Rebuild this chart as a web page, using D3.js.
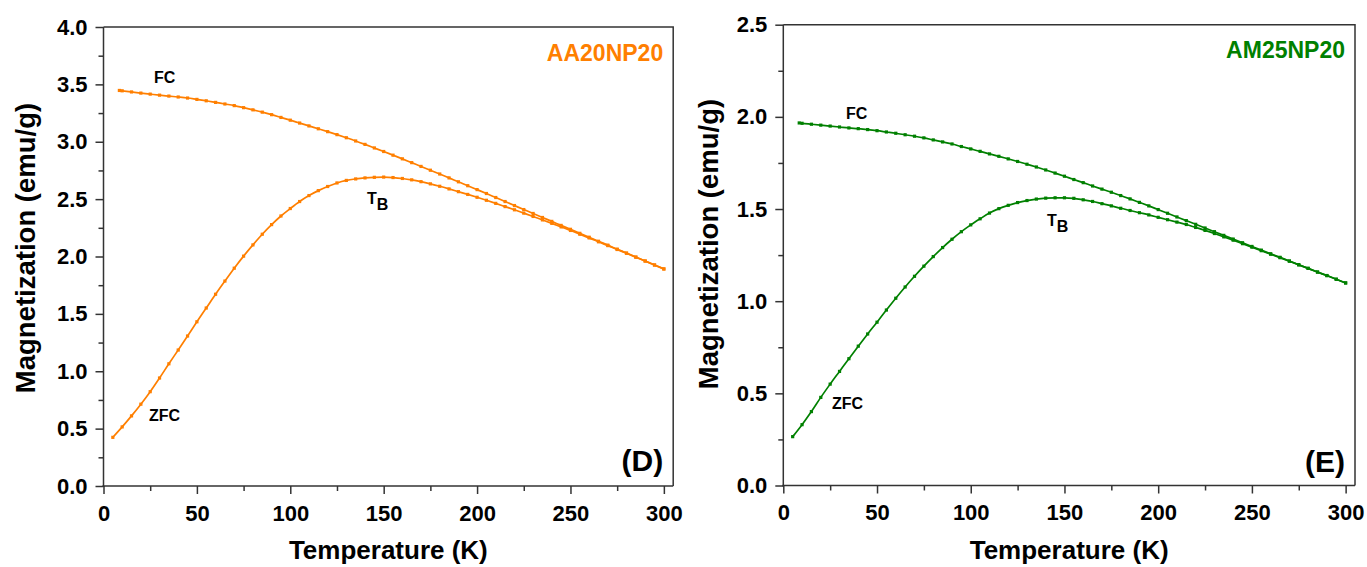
<!DOCTYPE html>
<html><head><meta charset="utf-8">
<script src="https://cdn.jsdelivr.net/npm/d3@7"></script>
<style>
html,body{margin:0;padding:0;background:#fff;}
svg text{font-family:"Liberation Sans",Arial,sans-serif;font-weight:bold;}
</style></head>
<body><svg id="c" width="1367" height="567"></svg>
<script>
// ---------- data ----------
const temps = [5,10,15,20,25,30,35,40,45,50,55,60,65,70,75,80,85,90,95,100,
  105,110,115,120,125,130,135,140,145,150,155,160,165,170,175,180,185,190,195,200,
  205,210,215,220,225,230,235,240,245,250,255,260,265,270,275,280,285,290,295,300];
const fcTemps = [8.5,10,15,20,25,30,35,40,45,50,55,60,65,70,75,80,85,90,95,100,
  105,110,115,120,125,130,135,140,145,150,155,160,165,170,175,180,185,190,195,200,
  205,210,215,220,225,230,235,240,245,250,255,260,265,270,275,280,285,290,295,300];

const zfcD = [0.424,0.515,0.611,0.713,0.822,0.941,1.065,1.185,1.307,1.431,
  1.551,1.671,1.786,1.898,2.003,2.101,2.194,2.278,2.353,2.418,
  2.479,2.531,2.574,2.610,2.641,2.663,2.676,2.685,2.690,2.692,
  2.688,2.680,2.668,2.652,2.633,2.612,2.589,2.565,2.541,2.516,
  2.490,2.463,2.435,2.407,2.378,2.349,2.319,2.289,2.258,2.227,
  2.194,2.162,2.128,2.095,2.061,2.028,1.994,1.960,1.926,1.891];
const fcD = [3.447,3.444,3.434,3.424,3.415,3.406,3.398,3.390,3.381,3.369,
  3.357,3.343,3.329,3.315,3.297,3.278,3.258,3.236,3.212,3.188,
  3.163,3.138,3.113,3.088,3.062,3.035,3.007,2.977,2.946,2.915,
  2.883,2.851,2.818,2.785,2.752,2.719,2.685,2.651,2.617,2.583,
  2.549,2.514,2.479,2.444,2.409,2.375,2.340,2.306,2.271,2.237,
  2.202,2.168,2.133,2.099,2.064,2.030,1.995,1.961,1.926,1.892];
const zfcE = [0.265,0.330,0.401,0.478,0.550,0.619,0.688,0.756,0.822,0.886,
  0.952,1.016,1.077,1.135,1.190,1.242,1.291,1.336,1.377,1.414,
  1.447,1.478,1.502,1.520,1.535,1.546,1.554,1.559,1.561,1.561,
  1.558,1.550,1.541,1.529,1.517,1.504,1.492,1.480,1.468,1.455,
  1.442,1.429,1.416,1.400,1.384,1.367,1.349,1.331,1.312,1.293,
  1.274,1.255,1.236,1.217,1.197,1.178,1.158,1.139,1.119,1.099];
const fcE = [1.967,1.965,1.960,1.955,1.950,1.945,1.940,1.936,1.931,1.925,
  1.918,1.911,1.903,1.895,1.886,1.875,1.864,1.853,1.839,1.826,
  1.813,1.799,1.786,1.772,1.758,1.743,1.728,1.712,1.695,1.678,
  1.660,1.643,1.625,1.608,1.591,1.573,1.555,1.536,1.517,1.497,
  1.477,1.457,1.437,1.417,1.397,1.377,1.357,1.337,1.317,1.297,
  1.277,1.257,1.238,1.218,1.198,1.178,1.158,1.139,1.119,1.099];

const xTicks = [0,50,100,150,200,250,300];
const xMinor = [25,75,125,175,225,275];
const yTicksD = [0,0.5,1.0,1.5,2.0,2.5,3.0,3.5,4.0];
const yMinorD = [0.25,0.75,1.25,1.75,2.25,2.75,3.25,3.75];
const yTicksE = [0,0.5,1.0,1.5,2.0,2.5];
const yMinorE = [0.25,0.75,1.25,1.75,2.25];
const xTitle = "Temperature (K)";
const yTitle = "Magnetization (emu/g)";

const panels = [
  {x0:103.5, x1:673.2, y0:486, y1:27, ymax:4.0, yTicks:yTicksD, yMinor:yMinorD,
   color:"#ff7f00", zfc:zfcD, fc:fcD, name:"AA20NP20", nameY:61, tag:"(D)", tagY:471,
   fcLab:[154,83], zfcLab:[149,421], tbLab:[367,204], yTitleX:35, yTitleY:248},
  {x0:783.3, x1:1355, y0:485.5, y1:24.7, ymax:2.5, yTicks:yTicksE, yMinor:yMinorE,
   color:"#008000", zfc:zfcE, fc:fcE, name:"AM25NP20", nameY:58, tag:"(E)", tagY:472,
   fcLab:[846,119], zfcLab:[832,409], tbLab:[1047,226], yTitleX:718, yTitleY:244}
];

const svg = d3.select("#c");
const axisColor = "#333";

panels.forEach(p => {
  const x = d3.scaleLinear().domain([0,305]).range([p.x0,p.x1]);
  const y = d3.scaleLinear().domain([0,p.ymax]).range([p.y0,p.y1]);
  const g = svg.append("g");

  // frame (top & right)
  g.append("path").attr("d",`M${p.x0},${p.y1}H${p.x1}V${p.y0}`)
    .attr("fill","none").attr("stroke",axisColor).attr("stroke-width",1.5);

  // minor ticks
  const xm = g.append("g").attr("transform",`translate(0,${p.y0})`)
    .call(d3.axisBottom(x).tickValues(xMinor).tickSize(5).tickFormat("").tickSizeOuter(0));
  xm.select(".domain").remove();
  const ym = g.append("g").attr("transform",`translate(${p.x0},0)`)
    .call(d3.axisLeft(y).tickValues(p.yMinor).tickSize(5).tickFormat("").tickSizeOuter(0));
  ym.select(".domain").remove();

  // major axes
  const xa = g.append("g").attr("transform",`translate(0,${p.y0})`)
    .call(d3.axisBottom(x).tickValues(xTicks).tickSize(8).tickPadding(11).tickSizeOuter(0).tickFormat(d3.format("d")));
  const ya = g.append("g").attr("transform",`translate(${p.x0},0)`)
    .call(d3.axisLeft(y).tickValues(p.yTicks).tickSize(8).tickPadding(8).tickSizeOuter(0).tickFormat(d3.format(".1f")));
  [xa,ya,xm,ym].forEach(a=>{
    a.selectAll("line").attr("stroke",axisColor).attr("stroke-width",1.5);
    a.selectAll(".domain").attr("stroke",axisColor).attr("stroke-width",1.5);
    a.selectAll("text").attr("fill","#000").style("font-size","22px")
      .style("font-family","'Liberation Sans',Arial,sans-serif").style("font-weight","bold");
  });
  ya.select(".domain").attr("d",`M0,${p.y0+1}V${p.y1}`);
  xa.select(".domain").attr("d",`M${p.x0-1},0H${p.x1}`);

  // curves
  const line = d3.line().curve(d3.curveMonotoneX);
  const series = [
    {t:temps, v:p.zfc},
    {t:fcTemps, v:p.fc}
  ];
  series.forEach(s=>{
    const pts = s.t.map((t,i)=>[x(t), y(s.v[i])]);
    g.append("path").attr("d",line(pts)).attr("fill","none")
      .attr("stroke",p.color).attr("stroke-width",1.7);
    g.selectAll(null).data(pts).enter().append("rect")
      .attr("x",d=>d[0]-1.6).attr("y",d=>d[1]-1.6).attr("width",3.2).attr("height",3.2)
      .attr("fill",p.color);
  });

  // labels
  g.append("text").attr("x",p.x1-10).attr("y",p.nameY).attr("text-anchor","end")
    .style("font-size","23px").attr("fill",p.color).text(p.name);
  g.append("text").attr("x",p.x1-10).attr("y",p.tagY).attr("text-anchor","end")
    .style("font-size","30px").attr("fill","#000").text(p.tag);
  g.append("text").attr("x",p.fcLab[0]).attr("y",p.fcLab[1]).style("font-size","16px").text("FC");
  g.append("text").attr("x",p.zfcLab[0]).attr("y",p.zfcLab[1]).style("font-size","16px").text("ZFC");
  const tb = g.append("text").attr("x",p.tbLab[0]).attr("y",p.tbLab[1]).style("font-size","16px");
  tb.append("tspan").text("T");
  tb.append("tspan").attr("dy",6).text("B");

  // axis titles
  g.append("text").attr("x",(p.x0+p.x1)/2).attr("y",559).attr("text-anchor","middle")
    .style("font-size","26px").text(xTitle);
  g.append("text").attr("transform",`translate(${p.yTitleX},${p.yTitleY}) rotate(-90)`)
    .attr("text-anchor","middle").style("font-size","27.5px").text(yTitle);
});
</script></body></html>
